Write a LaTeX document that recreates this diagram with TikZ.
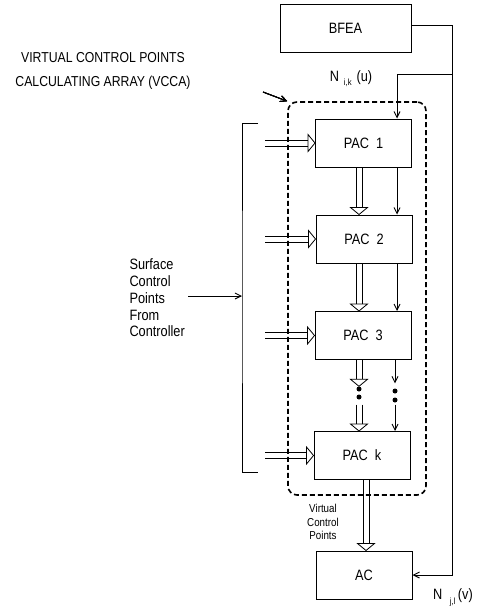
\documentclass[tikz,border=0pt]{standalone}
\usepackage{fontspec}
\setmainfont[FakeStretch=0.85]{Liberation Sans}
\usetikzlibrary{positioning, arrows.meta, calc}

\tikzset{
  blk/.style={draw, line width=1pt, minimum width=96pt, minimum height=48pt,
              inner sep=0pt},
  sline/.style={line width=0.9pt},
  sarrow/.style={sline, -{Straight Barb[length=6pt, width=6pt]}},
  dhead/.style={line width=0.8pt, fill=white, line join=miter},
  dline/.style={line width=0.8pt},
  vccabox/.style={draw, line width=1.6pt, dash pattern=on 5pt off 3pt,
                  rounded corners=9pt, minimum width=138pt, minimum height=393pt},
  dotmark/.style={circle, fill, inner sep=0pt, minimum size=5pt},
}
% hollow double arrow from #1 to #2: two rails and an open head
\newcommand{\dblarrow}[2]{%
  \path (#1) coordinate (da) (#2) coordinate (db);
  \path ($(db)!7pt!(da)$) coordinate (dc);
  \filldraw[dhead] ($(dc)!8.5pt!90:(db)$) -- (db) -- ($(dc)!8.5pt!-90:(db)$) -- cycle;
  \draw[dline] ($(da)!2.9pt!90:(db)$) -- ($(dc)!2.9pt!-90:(da)$)
               ($(da)!2.9pt!-90:(db)$) -- ($(dc)!2.9pt!90:(da)$);}

\begin{document}
\begin{tikzpicture}[x=1pt, y=-1pt, font=\fontsize{15}{18}\selectfont]
  \useasboundingbox (0,0) rectangle (478,613);
  % ---- blocks ----
  \node[blk, minimum width=131pt] (bfea) at (345.5,28) {BFEA};
  \node[vccabox] (vcca) at (357,298.5) {};
  \node[blk] (pac1) at (363.5,143) {PAC~~1};
  \node[blk] (pac2) at (364,239) {PAC~~2};
  \node[blk] (pac3) at (363,335.5) {PAC~~3};
  \node[blk] (pack) at (362,455.5) {PAC~~k};
  \node[blk] (ac) at (364,575) {AC};
  % ---- labels ----
  \node[align=center, font=\fontsize{14.4}{24}\selectfont] (vccalbl) at (103,71)
        {VIRTUAL CONTROL POINTS\\CALCULATING ARRAY (VCCA)};
  \node[align=left, anchor=west, font=\fontsize{15}{16.7}\selectfont] (scp) at (126,298)
        {Surface\\Control\\Points\\From\\Controller};
  \node[align=center, font=\fontsize{11.5}{13.5}\selectfont] (vcp) at (323,522)
        {Virtual\\Control\\Points};
  \node (nu) at (351,79) {N\,\,\raisebox{-4pt}{\fontsize{9}{9}\selectfont i,k}\,\,(u)};
  \node (nv) at (453,597) {N\,\,\,\raisebox{-5pt}{\fontsize{9}{9}\selectfont j,l}\,(v)};
  % ---- dots between PAC 3 and PAC k ----
  \node[dotmark] (dl1) at (359,389) {};
  \node[dotmark] (dl2) at (359,397) {};
  \node[dotmark] (dr1) at (395,391) {};
  \node[dotmark] (dr2) at (395,400) {};
  % ---- helper points ----
  \coordinate (tap) at (452,74);
  \coordinate (turn) at (397,74);
  \coordinate (brk) at (242,296);
  \coordinate (feedx) at (265,296);
  \coordinate (vptr) at (263,92);
  % ---- basis functions bus ----
  \draw[sarrow] ([yshift=3pt]bfea.east) -- ([yshift=3pt]bfea.east -| tap)
        -- (tap |- ac.east) -- (ac.east);
  \draw[sarrow] (tap) -- (turn) -- (turn |- pac1.north);
  \draw[sarrow] (pac1.south -| turn) -- (pac2.north -| turn);
  \draw[sarrow] (pac2.south -| turn) -- (pac3.north -| turn);
  \draw[sarrow, shorten >=5pt] (pac3.south -| dr1) -- (dr1.north);
  \draw[sarrow, shorten <=2pt] (dr2.south) -- (dr2 |- pack.north);
  % ---- control points down the array ----
  \dblarrow{pac1.south -| dl1}{pac2.north -| dl1}
  \dblarrow{pac2.south -| dl1}{pac3.north -| dl1}
  \dblarrow{pac3.south -| dl1}{dl1.north}
  \dblarrow{$(dl2.south)+(0,5)$}{dl2 |- pack.north}
  \dblarrow{$(pack.south)+(4,0)$}{$(pack.south |- ac.north)+(4,0)$}
  % ---- inputs from controller ----
  \draw[sline] (258,123) -| (brk) |- (258,472);
  \draw[sarrow] (scp.east |- brk) -- (brk);
  \foreach \p in {pac1, pac2, pac3, pack}
    \dblarrow{\p.west -| feedx}{\p.west}
  \draw[sarrow] (vptr) -- (vcca.north west);
\end{tikzpicture}
\end{document}
